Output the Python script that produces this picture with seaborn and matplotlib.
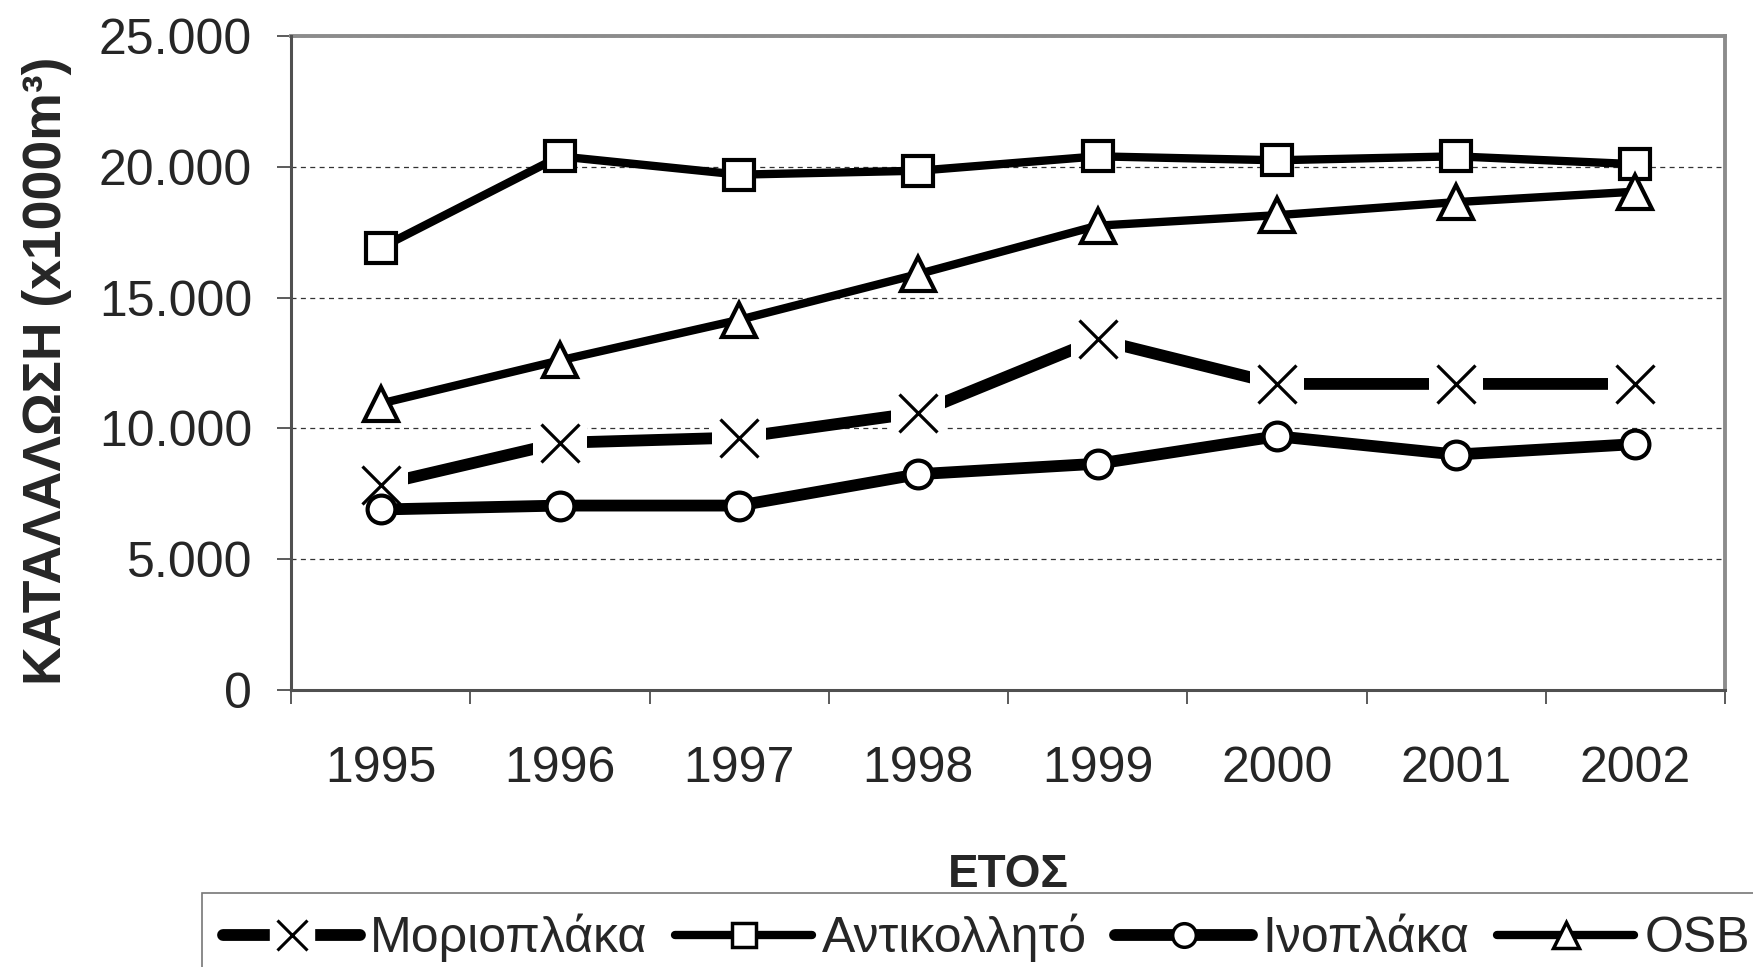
import numpy as np
import pandas as pd
import matplotlib
matplotlib.use("Agg")
import matplotlib.pyplot as plt
import seaborn as sns
from matplotlib.lines import Line2D
from matplotlib.legend_handler import HandlerTuple

# ---- data ----
years = ["1995", "1996", "1997", "1998", "1999", "2000", "2001", "2002"]
moriop = [7850, 9450, 9650, 10600, 13400, 11700, 11700, 11700]      # Μοριοπλάκα
antikol = [16900, 20400, 19700, 19850, 20400, 20250, 20400, 20100]  # Αντικολλητό
inop = [6900, 7050, 7050, 8250, 8650, 9700, 9000, 9400]             # Ινοπλάκα
osb = [10950, 12600, 14150, 15900, 17750, 18150, 18650, 19050]      # OSB
series_names = ["Μοριοπλάκα", "Αντικολλητό", "Ινοπλάκα", "OSB"]
yticks = [0, 5000, 10000, 15000, 20000, 25000]
ytick_labels = ["0", "5.000", "10.000", "15.000", "20.000", "25.000"]
ylabel = "ΚΑΤΑΛΑΛΩΣΗ (x1000m³)"
xlabel = "ΕΤΟΣ"

sns.set_style("white")
plt.rcParams["font.family"] = ["Liberation Sans", "DejaVu Sans"]

W, H = 1753, 967
fig = plt.figure(figsize=(W / 100, H / 100), dpi=100)
L, R, T, B = 291, 1725, 36, 690
ax = fig.add_axes([L / W, 1 - B / H, (R - L) / W, (B - T) / H])

idx = np.arange(len(years))
df = pd.DataFrame({"idx": idx, "m": moriop, "a": antikol, "i": inop, "o": osb})

# Μοριοπλάκα: thick line, white mask behind X markers, X markers
sns.lineplot(data=df, x="idx", y="m", ax=ax, color="black", lw=8.5, zorder=3)
sns.scatterplot(data=df, x="idx", y="m", ax=ax, marker="s", s=1500, color="white",
                edgecolor="none", linewidth=0, zorder=3.5)
sns.lineplot(data=df, x="idx", y="m", ax=ax, color="black", lw=0, marker="x",
             markersize=27, markeredgewidth=2.3, markeredgecolor="black", zorder=4)
# Αντικολλητό
sns.lineplot(data=df, x="idx", y="a", ax=ax, color="black", lw=6, marker="s",
             markersize=21, markerfacecolor="white", markeredgecolor="black",
             markeredgewidth=3, zorder=5)
# Ινοπλάκα
sns.lineplot(data=df, x="idx", y="i", ax=ax, color="black", lw=8.5, marker="o",
             markersize=20, markerfacecolor="white", markeredgecolor="black",
             markeredgewidth=3, zorder=6)
# OSB
sns.lineplot(data=df, x="idx", y="o", ax=ax, color="black", lw=6, marker="^",
             markersize=24, markerfacecolor="white", markeredgecolor="black",
             markeredgewidth=3, zorder=7)

# axes limits / ticks
ax.set_xlim(-0.5, len(years) - 0.5)
ax.set_ylim(yticks[0], yticks[-1])
ax.set_yticks(yticks)
ax.set_yticklabels(ytick_labels)
ax.set_xticks(np.arange(-0.5, len(years), 1.0))
ax.set_xticklabels([""] * (len(years) + 1))
ax.set_xticks(idx, minor=True)
ax.set_xticklabels(years, minor=True)
ax.set_xlabel("")
ax.set_ylabel("")

ax.tick_params(axis="y", which="major", direction="out", length=10, width=1.2,
               color="#404040", pad=18, labelsize=36, left=True)
ax.tick_params(axis="x", which="major", direction="out", length=10, width=1.2,
               color="#404040", bottom=True)
ax.tick_params(axis="x", which="minor", length=0, pad=40, labelsize=36, bottom=True)

ax.set_axisbelow(True)
ax.yaxis.grid(True, linestyle=(0, (4, 3.5)), color="#333333", lw=0.9)
ax.xaxis.grid(False)

for s in ["top", "right"]:
    ax.spines[s].set_color("#8c8c8c")
    ax.spines[s].set_linewidth(2.8)
for s in ["left", "bottom"]:
    ax.spines[s].set_color("#505050")
    ax.spines[s].set_linewidth(2.2)
    ax.spines[s].set_zorder(8)

fig.text(47 / W, 1 - 371 / H, ylabel, rotation=90, ha="center", va="center",
         fontsize=38.5, fontweight="bold")
fig.text((L + R) / 2 / W, 1 - 887 / H, xlabel, ha="center", va="baseline",
         fontsize=33, fontweight="bold")

# legend
h_m = (Line2D([], [], color="black", lw=8.5, solid_capstyle="round", marker="s",
              markersize=31, markerfacecolor="white", markeredgecolor="white"),
       Line2D([], [], ls="none", marker="x", markersize=21, markeredgewidth=2.2,
              markeredgecolor="black"))
h_a = Line2D([], [], color="black", lw=6, solid_capstyle="round", marker="s",
             markersize=17, markerfacecolor="white", markeredgecolor="black",
             markeredgewidth=2.5)
h_i = Line2D([], [], color="black", lw=8.5, solid_capstyle="round", marker="o",
             markersize=17, markerfacecolor="white", markeredgecolor="black",
             markeredgewidth=2.5)
h_o = Line2D([], [], color="black", lw=6, solid_capstyle="round", marker="^",
             markersize=19, markerfacecolor="white", markeredgecolor="black",
             markeredgewidth=2.5)
leg = fig.legend([h_m, h_a, h_i, h_o], series_names, loc="upper left",
                 bbox_to_anchor=(202 / W, 1 - 893 / H), bbox_transform=fig.transFigure,
                 ncol=4, frameon=True, fancybox=False, edgecolor="#555555",
                 fontsize=36, handlelength=2.74, handletextpad=0.2,
                 columnspacing=0.56, borderpad=0.42, borderaxespad=0,
                 numpoints=1, handler_map={tuple: HandlerTuple(ndivide=1)})
leg.get_frame().set_linewidth(1.2)

fig.savefig("out.png", dpi=100, facecolor="white")
